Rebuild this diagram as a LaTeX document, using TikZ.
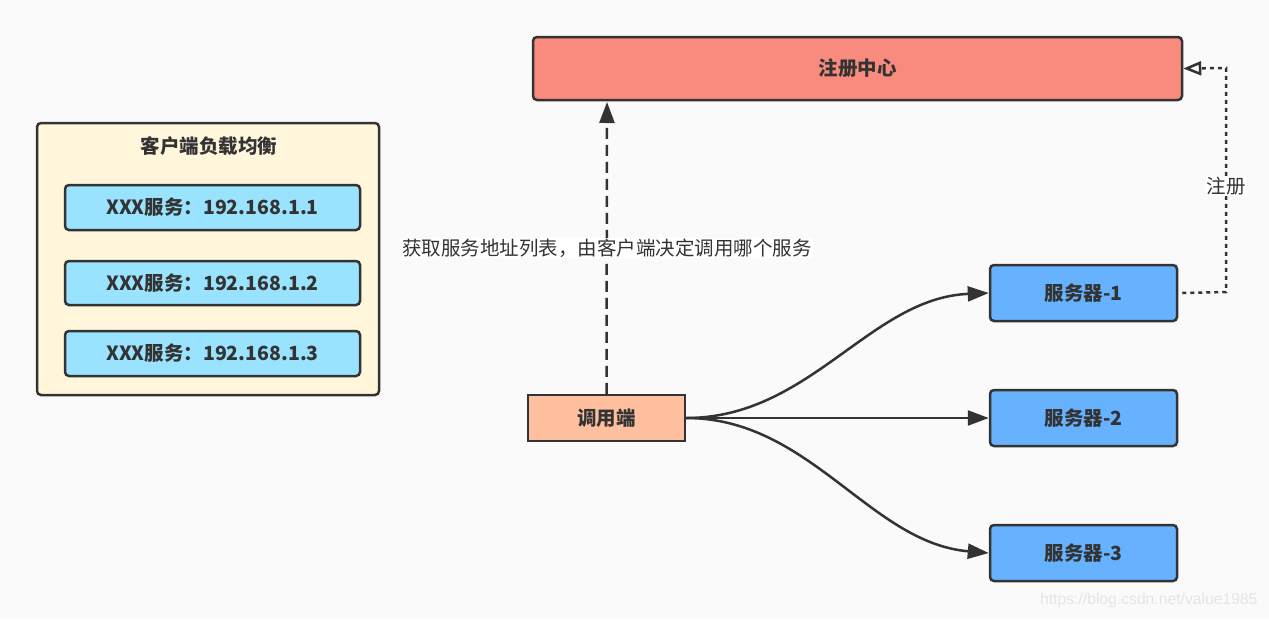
\documentclass[tikz,border=0pt]{standalone}
\usepackage{fontspec}
\setmainfont{Noto Sans CJK SC}
\newfontfamily\wmfont{Liberation Sans}
\usetikzlibrary{arrows.meta}
\definecolor{bg}{HTML}{FAFAFA}
\definecolor{ink}{HTML}{333333}
\definecolor{regfill}{HTML}{F88A7E}
\definecolor{lbfill}{HTML}{FFF6DC}
\definecolor{svcfill}{HTML}{9AE3FF}
\definecolor{callfill}{HTML}{FFC09F}
\definecolor{srvfill}{HTML}{66B2FF}
\tikzset{
  box/.style={draw=ink, line width=2.5pt, rounded corners=4pt, text=ink, font=\fontsize{19.5}{21}\selectfont\bfseries, inner sep=0pt},
  lbl/.style={fill=white, text=ink, font=\fontsize{19.5}{21}\selectfont, inner sep=1pt},
  conn/.style={draw=ink, line width=2.5pt, -{Triangle[length=21pt,width=15pt]}},
}
\begin{document}
\begin{tikzpicture}[x=1pt,y=-1pt]
\fill[bg] (0,0) rectangle (1269,619);
\useasboundingbox (0,0) rectangle (1269,619);

% registry
\node[box, fill=regfill, minimum width=649pt, minimum height=63pt] (reg) at (857.5,68.5) {注册中心};

% client LB group
\node[box, fill=lbfill, minimum width=342pt, minimum height=272pt] (lb) at (208,259) {};
\node[text=ink, font=\fontsize{19.5}{21}\selectfont\bfseries] (lbt) at (209,146) {客户端负载均衡};
\node[box, fill=svcfill, minimum width=295pt, minimum height=45pt] (s1) at (212.5,207.5) {XXX服务：192.168.1.1};
\node[box, fill=svcfill, minimum width=295pt, minimum height=44pt] (s2) at (212.5,283) {XXX服务：192.168.1.2};
\node[box, fill=svcfill, minimum width=295pt, minimum height=45pt] (s3) at (212.5,353.5) {XXX服务：192.168.1.3};

% caller
\node[box, rounded corners=0pt, fill=callfill, minimum width=157pt, minimum height=46pt] (call) at (606.5,418) {调用端};

% servers
\node[box, fill=srvfill, minimum width=187pt, minimum height=56pt] (srv1) at (1083.5,293) {服务器-1};
\node[box, fill=srvfill, minimum width=187pt, minimum height=56pt] (srv2) at (1083.5,418) {服务器-2};
\node[box, fill=srvfill, minimum width=187pt, minimum height=56pt] (srv3) at (1083.5,553) {服务器-3};

% caller -> registry (dashed)
\coordinate (rb) at (607,102);
\draw[conn, dash pattern=on 11pt off 6pt] (call.north) -- (rb);
\node[lbl] (getlbl) at (607,248) {获取服务地址列表，由客户端决定调用哪个服务};

% registration (dotted)
\coordinate (c1) at (1226,292);
\coordinate (c2) at (1226,68);
\draw[draw=ink, line width=2.5pt, dash pattern=on 4pt off 4pt, -{Triangle[open,length=18pt,width=14pt]}] (srv1.east) ++(4,0) -- (c1) -- (c2) -- (reg.east);
\node[lbl] (reglbl) at (1226,186) {注册};

% caller -> servers
\draw[conn] (call.east) .. controls (810,418) and (870,298) .. (srv1.west);
\draw[conn] (call.east) -- (srv2.west);
\draw[conn] (call.east) .. controls (810,418) and (870,543) .. (srv3.west);

% watermark
\node[text=black!10, font=\fontsize{15.7}{18}\selectfont\wmfont, anchor=east] (wm) at (1261,600) {https://blog.csdn.net/value1985};
\end{tikzpicture}
\end{document}
